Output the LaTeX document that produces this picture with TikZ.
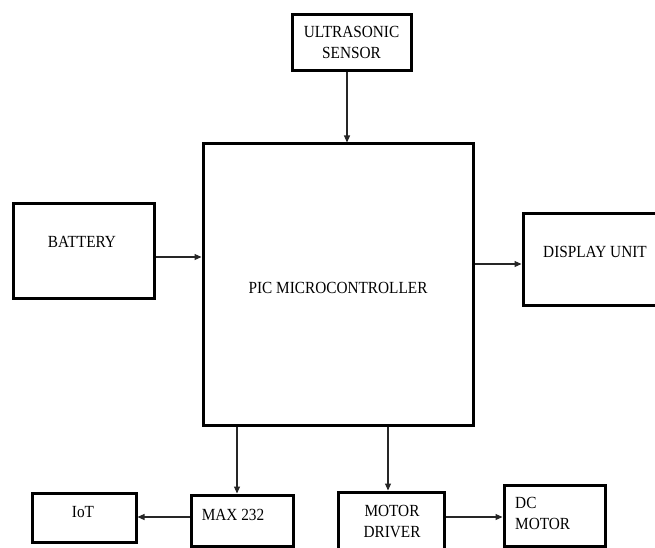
\documentclass[tikz,border=0pt]{standalone}
\usepackage{fontspec}
\setmainfont[FakeStretch=0.9]{Liberation Serif}
\usetikzlibrary{arrows.meta}
\begin{document}
\begin{tikzpicture}[x=1pt,y=-1pt,
  blk/.style={draw=black,line width=3pt,inner sep=0pt,minimum width=#1},
  lbl/.style={inner sep=0pt,font=\fontsize{17}{21}\selectfont,align=center},
  arr/.style={draw=black!85,line width=1.1pt,-{Triangle[length=7pt,width=6pt]}}]
\useasboundingbox (0,0) rectangle (655,548);
% boxes
\node[blk=119pt,minimum height=56pt] (us) at (351.5,43) {};
\node[blk=270pt,minimum height=281pt] (pic) at (338,284.5) {};
\node[blk=141pt,minimum height=95pt] (bat) at (83.5,250.5) {};
\node[blk=142pt,minimum height=92pt] (disp) at (594,259) {};
\node[blk=104pt,minimum height=49pt] (iot) at (84,517.5) {};
\node[blk=102pt,minimum height=51pt] (max) at (242,520.5) {};
\node[blk=106pt,minimum height=68pt] (md) at (391,526) {};
\node[blk=101pt,minimum height=61pt] (dc) at (554.5,515.5) {};
% labels
\node[lbl] (usl) at (351.5,42) {ULTRASONIC\\SENSOR};
\node[lbl] (picl) at (338,288) {PIC MICROCONTROLLER};
\node[lbl] (batl) at (82,242) {BATTERY};
\node[lbl] (displ) at (595,252) {DISPLAY UNIT};
\node[lbl] (iotl) at (83,512) {IoT};
\node[lbl] (maxl) at (233,515) {MAX 232};
\node[lbl] (mdl) at (392,521) {MOTOR\\DRIVER};
\node[lbl,align=left,anchor=west] (dcl) at (515,513) {DC\\MOTOR};
% connectors
\draw[arr] ([xshift=-4.5pt]us.south) -- ([xshift=-4.5pt]us.south |- pic.north);
\draw[arr] ([yshift=-6.5pt]bat.east) -- ([yshift=-6.5pt]bat.east -| pic.west);
\draw[arr] ([yshift=-5pt]pic.east |- disp.west) -- ([yshift=-5pt]disp.west);
\draw[arr] (max.north |- pic.south) ++(-5pt,0) coordinate (pm) -- (pm |- max.north);
\draw[arr] (md.north |- pic.south) ++(-3pt,0) coordinate (pd) -- (pd |- md.north);
\draw[arr] ([yshift=3.5pt]max.west) -- ([yshift=3.5pt]max.west -| iot.east);
\draw[arr] ([yshift=-1.5pt]dc.west -| md.east) -- ([yshift=-1.5pt]dc.west);
\end{tikzpicture}
\end{document}
